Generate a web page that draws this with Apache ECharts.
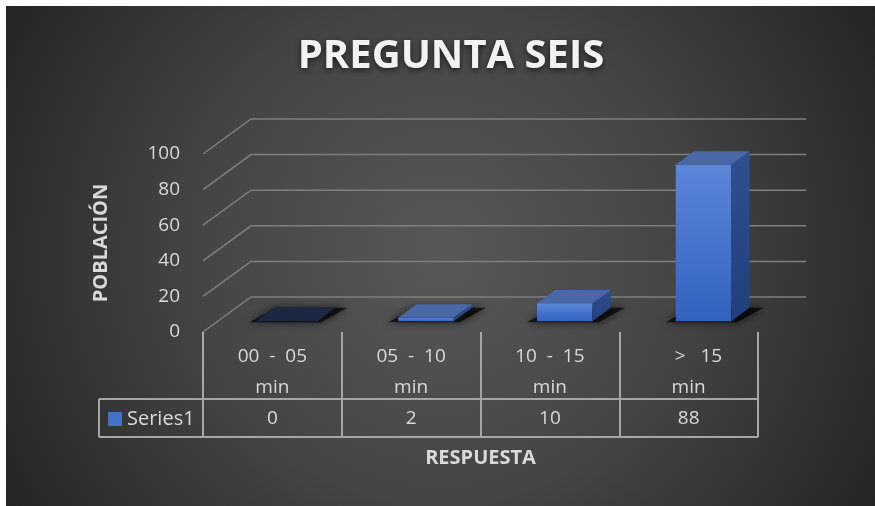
<!DOCTYPE html>
<html><head><meta charset="utf-8">
<script src="https://cdn.jsdelivr.net/npm/echarts@6/dist/echarts.min.js"></script>
<style>html,body{margin:0;padding:0;background:#fff}#c{width:875px;height:506px}</style>
</head><body><div id="c"></div>
<script>
const titleText = 'PREGUNTA SEIS';
const categories = ['00  -  05\nmin', '05  -  10\nmin', '10  -  15\nmin', '\u00a0\u00a0\u00a0\u00a0>\u00a0\u00a0\u00a015\nmin'];
const values = [0, 2, 10, 88];
const seriesName = 'Series1';
const yTicks = [0, 20, 40, 60, 80, 100];
const yAxisTitle = 'POBLACIÓN';
const xAxisTitle = 'RESPUESTA';

const FONT = '"Open Sans", sans-serif';
const DX = 48, DY = -35;          // depth projection of the 3D floor
const F1 = 0.31, F2 = 0.69;       // bar depth range (fraction of floor depth)
const BAR_W = 0.4;                // bar width as fraction of category band
const TEXT = '#d9d9d9';
const LINE = '#a6a6a6';

const chart = echarts.init(document.getElementById('c'), null, {renderer: 'canvas'});

function gridRender(params, api) {
  const cs = params.coordSys;
  const y = api.coord([0, api.value(1)])[1];
  return {
    type: 'polyline', silent: true,
    shape: {points: [[cs.x, y], [cs.x + DX, y + DY], [cs.x + cs.width + DX, y + DY]]},
    style: {stroke: '#7f7f7f', lineWidth: 1.5, fill: null}
  };
}

function barRender(params, api) {
  const i = api.value(0), v = api.value(1);
  const base = api.coord([i, 0]);
  const top = api.coord([i, v]);
  const w = api.size([1, 0])[0] * BAR_W;
  const x0 = base[0] - w / 2, x1 = base[0] + w / 2;
  const fx = DX * F1, fy = DY * F1, bx = DX * F2, by = DY * F2;
  const FLB = [x0 + fx, base[1] + fy], FRB = [x1 + fx, base[1] + fy];
  const FLT = [x0 + fx, top[1] + fy], FRT = [x1 + fx, top[1] + fy];
  const BLT = [x0 + bx, top[1] + by], BRT = [x1 + bx, top[1] + by];
  const BRB = [x1 + bx, base[1] + by], BLB = [x0 + bx, base[1] + by];
  const children = [];
  children.push({
    type: 'polygon', silent: true,
    shape: {points: [[FLB[0] - 10, FLB[1] + 1], [FRB[0] + 6, FRB[1] + 1], [BRB[0] + 14, BRB[1]], [BLB[0] - 2, BLB[1]]]},
    style: {fill: 'rgba(0,0,0,0.7)', shadowBlur: 9, shadowColor: 'rgba(0,0,0,0.95)'}
  });
  if (v > 0) {
    children.push({
      type: 'polygon', shape: {points: [FLB, FRB, FRT, FLT]},
      style: {fill: new echarts.graphic.LinearGradient(0, 0, 0, 1, [
        {offset: 0, color: '#5c86d9'}, {offset: 1, color: '#3262c1'}])}
    });
    children.push({
      type: 'polygon', shape: {points: [FRB, BRB, BRT, FRT]},
      style: {fill: new echarts.graphic.LinearGradient(0, 0, 0, 1, [
        {offset: 0, color: '#2f4f90'}, {offset: 1, color: '#223f7c'}])}
    });
    children.push({
      type: 'polygon', shape: {points: [FLT, FRT, BRT, BLT]},
      style: {fill: '#4a68a8'}
    });
  } else {
    children.push({
      type: 'polygon', shape: {points: [[FLT[0] - 4, FLT[1]], [FRT[0] + 3, FRT[1]], [BRT[0] + 2, BRT[1]], [BLT[0] - 4, BLT[1]]]},
      style: {fill: '#1c2744'}
    });
  }
  return {type: 'group', children};
}

function tableRender(params, api) {
  const cs = params.coordSys;
  const i = api.value(0);
  const c = api.coord([i, 0]);
  const rowTop = cs.y + cs.height + 67, rowBot = rowTop + 38;
  const children = [{
    type: 'text', silent: true,
    style: {text: String(api.value(1)), x: c[0], y: (rowTop + rowBot) / 2 + 1,
      align: 'center', verticalAlign: 'middle', fill: TEXT, font: '19px ' + FONT}
  }];
  if (i === 0) {
    const lx = cs.x - 104, rx = cs.x + cs.width;
    const st = {stroke: LINE, lineWidth: 2};
    children.push({type: 'line', silent: true, shape: {x1: lx, y1: rowTop, x2: rx, y2: rowTop}, style: st});
    children.push({type: 'line', silent: true, shape: {x1: lx, y1: rowBot, x2: rx, y2: rowBot}, style: st});
    children.push({type: 'line', silent: true, shape: {x1: lx, y1: rowTop, x2: lx, y2: rowBot}, style: st});
  }
  return {type: 'group', children};
}

chart.setOption({
  animation: false,
  backgroundColor: '#ffffff',
  graphic: [{
    type: 'rect', left: 6, top: 6, z: -100, silent: true,
    shape: {width: 869, height: 500},
    style: {fill: {type: 'radial', x: 0.5, y: 0.5, r: 1.0, colorStops: [
      {offset: 0, color: '#585858'}, {offset: 0.5, color: '#444444'}, {offset: 1, color: '#252525'}]}}
  }],
  title: {
    text: titleText, left: 446, top: 32, textAlign: 'center',
    textStyle: {fontFamily: FONT, fontWeight: 'bold', fontSize: 40, color: '#f2f2f2',
      textShadowColor: 'rgba(0,0,0,0.65)', textShadowBlur: 6, textShadowOffsetY: 2}
  },
  legend: {
    data: [seriesName], left: 108, top: 409, padding: 0, icon: 'rect', itemWidth: 14, itemHeight: 14,
    itemGap: 5, selectedMode: false, textStyle: {color: TEXT, fontSize: 20, fontFamily: FONT, padding: [0, 0, 0, 0]}
  },
  grid: {left: 203, right: 117, top: 154, bottom: 174},
  xAxis: {
    type: 'category', data: categories,
    name: xAxisTitle, nameLocation: 'middle', nameGap: 116,
    nameTextStyle: {color: TEXT, fontSize: 20, fontWeight: 'bold', fontFamily: FONT},
    axisLine: {show: false},
    axisTick: {show: true, length: 105, lineStyle: {color: LINE, width: 2}},
    axisLabel: {interval: 0, margin: 9, lineHeight: 31, fontSize: 19, color: TEXT, fontFamily: FONT},
    splitLine: {show: false}
  },
  yAxis: {
    type: 'value', min: yTicks[0], max: yTicks[yTicks.length - 1], interval: yTicks[1] - yTicks[0],
    name: yAxisTitle, nameLocation: 'middle', nameGap: 92, nameRotate: 90,
    nameTextStyle: {color: TEXT, fontSize: 20, fontWeight: 'bold', fontFamily: FONT},
    axisLine: {show: false}, axisTick: {show: false}, splitLine: {show: false},
    axisLabel: {margin: 23, fontSize: 19, color: TEXT, fontFamily: FONT, padding: [4, 0, 0, 0]}
  },
  series: [
    {type: 'custom', name: 'grid3d', renderItem: gridRender, data: yTicks.map(v => [0, v]), z: 1, silent: true},
    {type: 'custom', name: seriesName, renderItem: barRender, data: values.map((v, i) => [i, v]), z: 3,
      itemStyle: {color: '#4472c4'}},
    {type: 'custom', name: 'table', renderItem: tableRender, data: values.map((v, i) => [i, v]), z: 4, silent: true}
  ]
});
</script></body></html>
